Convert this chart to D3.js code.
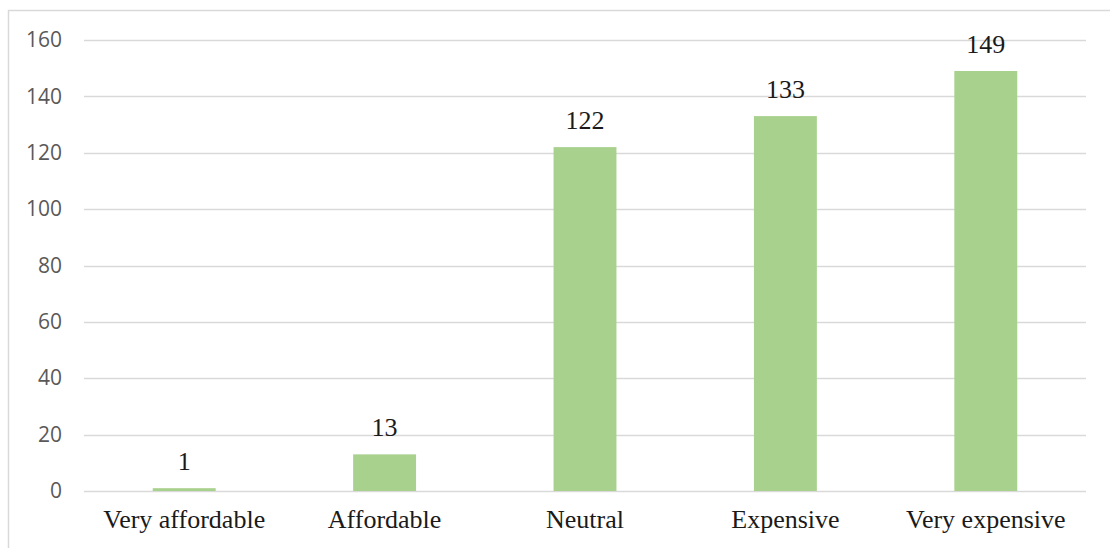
<!DOCTYPE html>
<html>
<head>
<meta charset="utf-8">
<script src="https://cdn.jsdelivr.net/npm/d3@7"></script>
<style>
  body { margin: 0; background: #fff; }
</style>
</head>
<body>
<script>
// chart data
const categories = ["Very affordable", "Affordable", "Neutral", "Expensive", "Very expensive"];
const counts = [1, 13, 122, 133, 149];
const yTicks = [0, 20, 40, 60, 80, 100, 120, 140, 160];

const W = 1110, H = 548;
const margin = {top: 40, right: 24, bottom: 57, left: 84};
const width = W - margin.left - margin.right,
  height = H - margin.top - margin.bottom;

const svg = d3.select("body")
  .append("svg")
  .attr("width", W)
  .attr("height", H);

// outer chart border
svg.append("rect")
  .attr("x", 8.5)
  .attr("y", 10.5)
  .attr("width", W + 10)
  .attr("height", H + 10)
  .attr("fill", "none")
  .attr("stroke", "#d9d9d9")
  .attr("stroke-width", 1.5);

const g = svg.append("g")
  .attr("transform", `translate(${margin.left}, ${margin.top})`);

const x = d3.scaleBand()
  .domain(categories)
  .range([0, width])
  .paddingInner(0.686)
  .paddingOuter(0.343);

const y = d3.scaleLinear()
  .domain([0, 160])
  .range([height, 0]);

// gridlines
g.append("g")
  .selectAll("line")
  .data(yTicks)
  .join("line")
    .attr("x1", 0)
    .attr("x2", width)
    .attr("y1", d => Math.round(y(d)) + 0.5)
    .attr("y2", d => Math.round(y(d)) + 0.5)
    .attr("stroke", "#d9d9d9")
    .attr("stroke-width", 1.5);

// y axis labels
const yAxis = g.append("g")
  .call(d3.axisLeft(y).tickValues(yTicks).tickSize(0).tickPadding(22));
yAxis.select(".domain").remove();
yAxis.selectAll("text")
  .style("font-family", "'Open Sans', 'Liberation Sans', sans-serif")
  .style("font-size", "21px")
  .attr("fill", "#595959");

// bars
g.selectAll(".bar")
  .data(counts)
  .join("rect")
    .attr("class", "bar")
    .attr("x", (d, i) => x(categories[i]))
    .attr("y", d => y(d))
    .attr("width", x.bandwidth())
    .attr("height", d => y(0) - y(d))
    .attr("fill", "#a9d18e");

// value labels
g.selectAll(".val")
  .data(counts)
  .join("text")
    .attr("class", "val")
    .attr("x", (d, i) => x(categories[i]) + x.bandwidth() / 2)
    .attr("y", d => y(d) - 18)
    .attr("text-anchor", "middle")
    .style("font-family", "'Liberation Serif', serif")
    .style("font-size", "26px")
    .attr("fill", "#1a1a1a")
    .text(d => d);

// category labels
const xAxis = g.append("g")
  .attr("transform", `translate(0, ${height})`)
  .call(d3.axisBottom(x).tickSize(0).tickPadding(19));
xAxis.select(".domain").remove();
xAxis.selectAll("text")
  .style("font-family", "'Liberation Serif', serif")
  .style("font-size", "26px")
  .attr("fill", "#1a1a1a");
</script>
</body>
</html>
